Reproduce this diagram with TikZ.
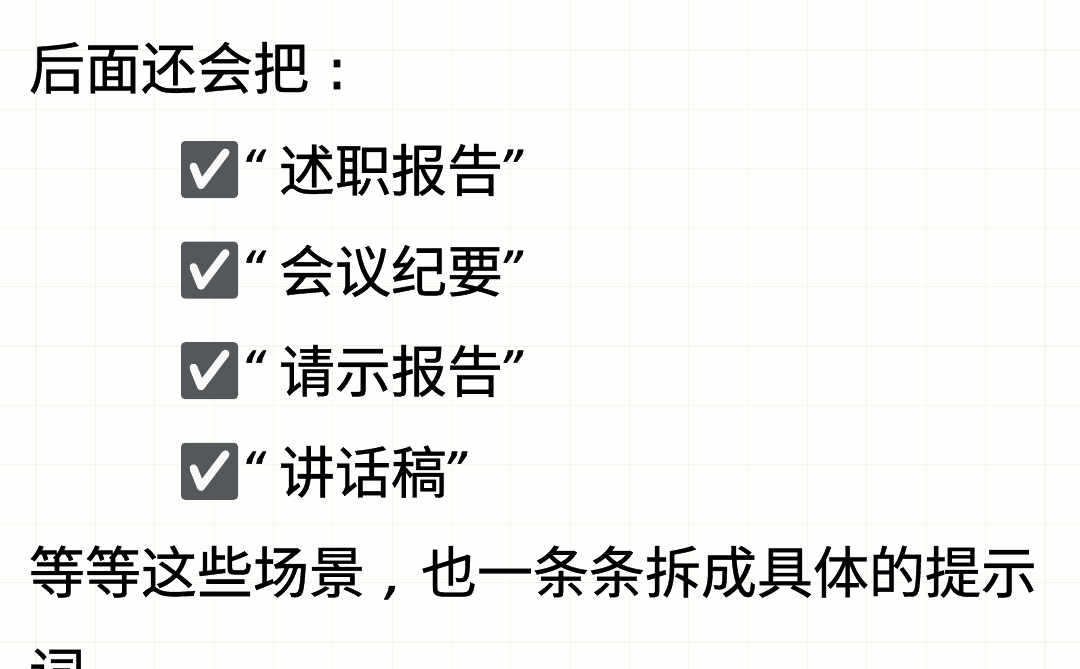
\documentclass[tikz,border=0pt]{standalone}
\usepackage{fontspec}
\setmainfont[FakeBold=0.7]{Noto Sans CJK SC}
\newfontfamily\colonfont[FakeBold=1.5]{DejaVu Sans}
\newfontfamily\quotefont[FakeBold=0.8]{DejaVu Sans}
\newcommand{\fullwidth}[1]{\makebox[56pt]{#1}}
\newcommand{\openq}{\makebox[39pt][l]{\raisebox{5pt}{\fontsize{50}{60}\selectfont\quotefont\itshape “}}}
\newcommand{\closeq}{\kern-6pt\raisebox{5pt}{\fontsize{50}{60}\selectfont\quotefont\itshape ”}}
\definecolor{paper}{HTML}{FEFEFD}
\definecolor{gridline}{HTML}{F6F5F2}
\definecolor{boxgrey}{HTML}{55585B}
\definecolor{tickwhite}{HTML}{F9F9F9}
\tikzset{
  line/.style={anchor=base west, inner sep=0pt, outer sep=0pt, font=\fontsize{56}{60}\selectfont, text=black},
  checkbox/.style={fill=boxgrey, rounded corners=4},
  tick/.style={draw=tickwhite, line width=8, line cap=round, line join=round}
}
\begin{document}
\begin{tikzpicture}[x=1pt,y=-1pt]
    % Define the grid pitch and the box size
    \def\gridpitchx{59.35}
    \def\gridpitchy{59.2}
    \def\boxsize{57}
    \def\rowdist{100.6}

    \useasboundingbox (0,0) rectangle (1080,669);
    \clip (0,0) rectangle (1080,669);
    \fill[paper] (0,0) rectangle (1080,669);

    % Draw the paper grid
    \foreach \x in {0,...,17} {
      \draw[gridline, line width=1.1] (36+\x*\gridpitchx,0) -- (36+\x*\gridpitchx,669);
    }
    \foreach \y in {0,...,10} {
      \draw[gridline, line width=1.1] (0,50+\y*\gridpitchy) -- (1080,50+\y*\gridpitchy);
    }

    % Draw the check boxes
    \foreach \y in {0,1,2,3} {
      \fill[checkbox] (181,141+\y*\rowdist) rectangle (181+\boxsize,141+\y*\rowdist+\boxsize);
      \draw[tick] (193.5,166.5+\y*\rowdist) -- (201,185+\y*\rowdist) -- (225.5,152.5+\y*\rowdist);
    }

    % Add the text lines
    \node[line] (intro) at (29,89) {后面还会把\fullwidth{\colonfont :}};
    \node[line] (item1) at (240,191) {\openq 述职报告\closeq};
    \node[line] (item2) at (240,292) {\openq 会议纪要\closeq};
    \node[line] (item3) at (240,392) {\openq 请示报告\closeq};
    \node[line] (item4) at (240,493) {\openq 讲话稿\closeq};
    \node[line] (outro) at (29,593) {等等这些场景\fullwidth{\quotefont\itshape ,}也一条条拆成具体的提示};
    \node[line] (last) at (29,694) {词};
\end{tikzpicture}
\end{document}
